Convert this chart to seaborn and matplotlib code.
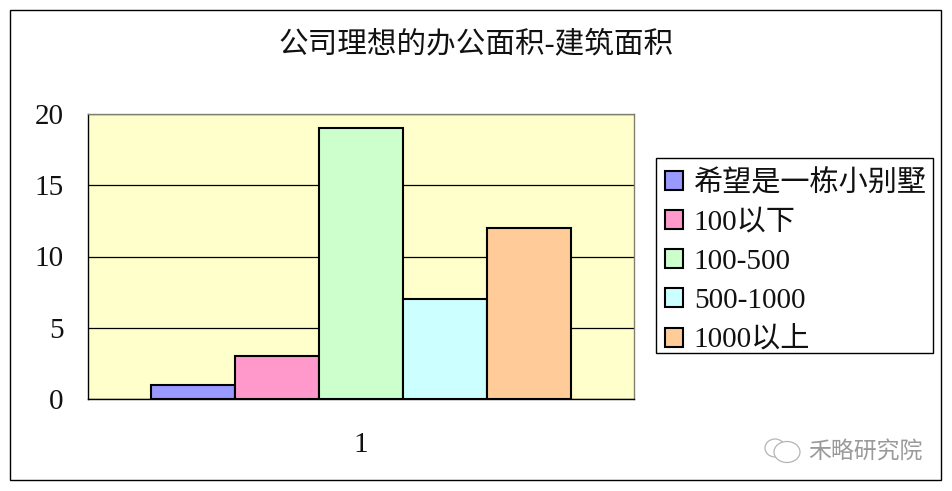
import matplotlib
matplotlib.use("Agg")
import matplotlib.pyplot as plt
import pandas as pd
import seaborn as sns
from matplotlib.patches import Ellipse, Rectangle

title = "公司理想的办公面积-建筑面积"
categories = ["希望是一栋小别墅", "100以下", "100-500", "500-1000", "1000以上"]
values = [1, 3, 19, 7, 12]
group = ["1", "1", "1", "1", "1"]
yticks = [0, 5, 10, 15, 20]
colors = ["#9999FF", "#FF99CC", "#CCFFCC", "#CCFFFF", "#FFCC99"]

W, H = 953, 491

sns.set_theme(style="white")
plt.rcParams["font.family"] = ["Liberation Serif", "Noto Sans CJK SC", "DejaVu Sans"]

df = pd.DataFrame({"group": group, "area": categories, "count": values})

fig = plt.figure(figsize=(W / 100, H / 100), dpi=100, facecolor="white")
ax = fig.add_axes([88 / W, 1 - 399 / H, (634 - 88) / W, (399 - 114) / H])
ax.set_facecolor("#FFFFCC")

sns.barplot(
    data=df,
    x="group",
    y="count",
    hue="area",
    hue_order=categories,
    palette=colors,
    width=0.769,
    gap=0,
    saturation=1,
    edgecolor="black",
    linewidth=1.5,
    ax=ax,
    zorder=3,
)

ax.set_xlim(-0.5, 0.5)
ax.set_ylim(0, 20)
ax.set_yticks(yticks)
ax.yaxis.grid(True, color="black", linewidth=0.9)
ax.set_axisbelow(True)
ax.set_xlabel("")
ax.set_ylabel("")
ax.tick_params(axis="y", length=0, labelsize=21, pad=17.5, colors="#111111")
ax.tick_params(axis="x", length=0, labelsize=21, pad=23.5, colors="#111111")

for side in ["left", "bottom"]:
    ax.spines[side].set_color("black")
    ax.spines[side].set_linewidth(1.0)
for side in ["top", "right"]:
    ax.spines[side].set_color("#808070")
    ax.spines[side].set_linewidth(1.0)

# legend rows sit unevenly in the box, so the box is drawn separately
leg = ax.legend(
    loc="upper left",
    bbox_to_anchor=(657 / W, 1 - 161 / H),
    bbox_transform=fig.transFigure,
    fontsize=21,
    frameon=False,
    borderaxespad=0,
    borderpad=0.28,
    handlelength=0.62,
    handleheight=0.62,
    handletextpad=0.36,
    labelspacing=0.45,
)
for text in leg.get_texts():
    text.set_color("#111111")
fig.add_artist(Rectangle((656 / W, 1 - 353 / H), 277 / W, 195 / H, transform=fig.transFigure,
                         fill=False, edgecolor="black", linewidth=1.0))

fig.text(476 / W, 1 - 44 / H, title, fontsize=21.3, color="#111111", ha="center", va="center")

# outer chart border
fig.add_artist(Rectangle((10 / W, 1 - 480 / H), 931 / W, 470 / H, transform=fig.transFigure,
                         fill=False, edgecolor="black", linewidth=1.0))

# watermark
fig.text(808 / W, 1 - 453 / H, "禾略研究院", fontsize=16.5, color="#9a9a9a", ha="left", va="center")
fig.add_artist(Ellipse((775 / W, 1 - 448 / H), 20 / W, 18 / H, transform=fig.transFigure,
                       fill=False, edgecolor="#b5b5b5", linewidth=0.9))
fig.add_artist(Ellipse((787 / W, 1 - 452 / H), 26 / W, 21 / H, transform=fig.transFigure,
                       facecolor="white", edgecolor="#b5b5b5", linewidth=0.9))

plt.savefig("out.png", dpi=100)
plt.close()
